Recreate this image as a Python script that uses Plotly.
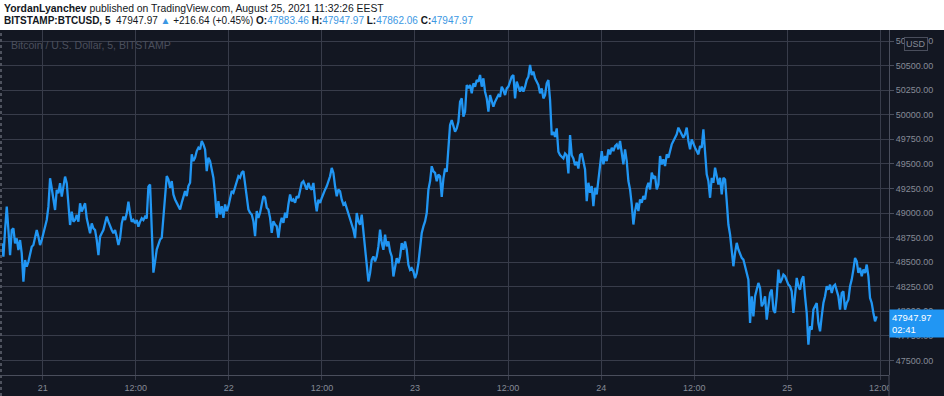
import pandas as pd
import plotly.graph_objects as go

# --- BTC/USD 5-min closes (Aug 20 18:43 -> Aug 25 11:32 EEST) ---
prices_aug20_21 = [
    48691, 48555, 48827, 49065, 48827, 48572, 48827, 48844, 48691, 48742,
    48623, 48725, 48589, 48300, 48521, 48453, 48504, 48589, 48657, 48674,
    48759, 48827, 48759, 48674, 48725, 48793, 48878, 48929, 49065, 49354,
    49252, 49133, 49031, 49235, 49201, 49303, 49167, 49269, 49371, 49303,
    49031, 48878, 49014, 48912, 48929, 48980, 48912, 49099, 49014, 49065,
    49099, 48946, 48861, 48793, 48895, 48844, 48827, 48725, 48572, 48759,
    48793, 48827, 48895, 48963, 48912, 48861, 48827, 48793, 48827, 48759,
    48674, 48742, 48895, 48963, 48929, 48997, 49116, 48997, 48912, 48929,
    48895, 48929, 48861, 48912, 48946, 48929, 48963, 48946, 49269,
]
prices_aug21_22 = [
    49291, 48832, 48393, 48506, 48628, 48679, 48730, 48747, 48951, 49223,
    49376, 49342, 49257, 49325, 49189, 49138, 49104, 49070, 49036, 49104,
    49155, 49223, 49172, 49274, 49308, 49597, 49529, 49563, 49631, 49665,
    49648, 49733, 49699, 49648, 49427, 49563, 49529, 49427, 49359, 49189,
    48951, 49121, 48985, 49070, 48951, 49087, 49019, 49070, 49155, 49223,
    49206, 49257, 49325, 49376, 49359, 49410, 49427, 49291, 49172, 49036,
    49002, 48985, 48917, 48764, 49019, 48951, 49002, 49087, 49172, 49155,
    49053, 49036, 48951, 48798, 48917, 48883, 48866, 48747, 48883, 48951,
    48900, 49002, 48951, 49087, 49189, 49121, 49138, 49104,
]
prices_aug22_23 = [
    49170, 49153, 49238, 49306, 49323, 49272, 49238, 49306, 49255, 49238,
    49306, 49136, 49017, 49136, 49102, 49153, 49204, 49238, 49272, 49323,
    49374, 49459, 49408, 49272, 49170, 49238, 49221, 49136, 49085, 49102,
    49051, 49000, 48932, 48881, 48830, 48745, 49000, 48915, 48881, 48983,
    48830, 48626, 48473, 48303, 48388, 48524, 48558, 48507, 48558, 48660,
    48830, 48694, 48626, 48779, 48660, 48711, 48609, 48558, 48354, 48456,
    48541, 48490, 48558, 48694, 48626, 48711, 48626, 48473, 48422, 48439,
    48405, 48337, 48388, 48490, 48626, 48796, 48864, 48915, 49000, 49238,
    49323, 49476, 49425, 49408, 49323, 49391, 49374,
]
prices_aug23 = [
    49164, 49351, 49453, 49419, 49725, 49895, 49946, 49878, 49827, 49861,
    49929, 50133, 50167, 49980, 50031, 50303, 50269, 50303, 50218, 50320,
    50286, 50354, 50337, 50405, 50286, 50371, 50235, 50167, 50031, 50201,
    50133, 50082, 50133, 50167, 50201, 50184, 50286, 50252, 50201, 50269,
    50286, 50337, 50388, 50405, 50167, 50337, 50286, 50235, 50286, 50235,
    50286, 50354, 50388, 50507, 50405, 50439, 50371, 50337, 50303, 50218,
    50269, 50167, 50201, 50320, 50354, 50150, 49793, 49827, 49776, 49861,
    49623, 49589, 49572, 49555, 49606, 49589, 49402, 49793, 49589, 49555,
    49487, 49521, 49453, 49589, 49606, 49521, 49443,
]
prices_aug24 = [
    49121, 49308, 49206, 49274, 49070, 49257, 49189, 49342, 49444, 49631,
    49495, 49580, 49529, 49648, 49597, 49665, 49631, 49682, 49699, 49648,
    49733, 49614, 49495, 49648, 49529, 49325, 49240, 49087, 48883, 49019,
    49104, 49019, 49138, 49104, 49172, 49138, 49257, 49308, 49240, 49410,
    49359, 49376, 49240, 49291, 49580, 49495, 49546, 49478, 49597, 49563,
    49631, 49699, 49733, 49767, 49801, 49869, 49835, 49818, 49767, 49801,
    49869, 49733, 49648, 49750, 49699, 49665, 49631, 49597, 49682, 49665,
    49852, 49563, 49393, 49325, 49155, 49359, 49308, 49461, 49376, 49291,
    49359, 49189, 49359, 49342, 49121, 48883, 48781,
]
prices_aug24_25 = [
    48628, 48458, 48594, 48696, 48628, 48577, 48543, 48526, 48458, 48390,
    48322, 47880, 48152, 47948, 48152, 48220, 48288, 48237, 48050, 48084,
    48152, 47914, 48050, 48186, 48220, 48016, 47982, 48152, 48424, 48288,
    48322, 48373, 48356, 48322, 48271, 48254, 48203, 47982, 48186, 48339,
    48254, 48220, 48322, 48356, 48152, 47982, 47659, 47846, 47812, 48016,
    48050, 48084, 47880, 47795, 47948, 48084, 48152, 48254, 48220, 48271,
    48186, 48254, 48271, 48220, 48152, 48016, 48186, 48203, 48016, 48084,
    48118, 48254, 48322, 48424, 48543, 48509, 48390, 48441, 48356, 48424,
    48390, 48475, 48356, 48135, 48084, 47982, 47897, 47947.97,
]

tick_vals = ["2021-08-21 00:00", "2021-08-21 12:00", "2021-08-22 00:00", "2021-08-22 12:00",
             "2021-08-23 00:00", "2021-08-23 12:00", "2021-08-24 00:00", "2021-08-24 12:00",
             "2021-08-25 00:00", "2021-08-25 12:00"]
tick_text = ["21", "12:00", "22", "12:00", "23", "12:00", "24", "12:00", "25", "12:00"]

last_price = 47947.97
countdown = "02:41"

prices = (prices_aug20_21 + prices_aug21_22 + prices_aug22_23 +
          prices_aug23 + prices_aug24 + prices_aug24_25)
times = pd.date_range("2021-08-20 18:43", "2021-08-25 11:32", periods=len(prices))

BG = "#131722"
GRID = "#383c4a"
AXLINE = "#4a4e5c"
AXTXT = "#868a96"
BLUE = "#2196f3"

fig = go.Figure()
fig.add_trace(go.Scatter(x=times, y=prices, mode="lines",
                         line=dict(color=BLUE, width=2.3), hoverinfo="skip",
                         showlegend=False))

W, H = 887, 345
fig.update_layout(
    width=944, height=396,
    margin=dict(l=2, r=55, t=30, b=21, pad=0),
    paper_bgcolor=BG, plot_bgcolor=BG,
    font=dict(family="Liberation Sans, Arial, sans-serif", color=AXTXT, size=9),
    xaxis=dict(type="date", range=["2021-08-20 18:45", "2021-08-25 13:07"],
               tickvals=tick_vals, ticktext=tick_text, showgrid=True,
               gridcolor=GRID, gridwidth=1, zeroline=False,
               ticks="outside", ticklen=4, tickcolor=GRID,
               showline=True, linecolor=AXLINE, linewidth=1,
               tickfont=dict(size=9, color=AXTXT)),
    yaxis=dict(side="right", range=[47351, 50863], tick0=0, dtick=250,
               tickformat=".2f", showgrid=True, gridcolor=GRID, gridwidth=1,
               zeroline=False, ticks="outside", ticklen=4, tickcolor=AXLINE,
               showline=True, linecolor=AXLINE, linewidth=1,
               tickfont=dict(size=9, color=AXTXT)),
)

shapes = [
    # white header band
    dict(type="rect", xref="paper", yref="paper", x0=-0.01, x1=1.1,
         y0=1.0, y1=1.2, fillcolor="white", line=dict(width=0), layer="below"),
    # axis corner box (clips the last time label)
    dict(type="rect", xref="paper", yref="paper", x0=1.0, x1=1.0 + 55 / W,
         y0=-21 / H, y1=0, fillcolor=BG, line=dict(width=0), layer="above"),
    dict(type="line", xref="paper", yref="paper", x0=1.0, x1=1.0,
         y0=-21 / H, y1=0, line=dict(color=AXLINE, width=1), layer="above"),
    # dotted left border of the chart pane
    dict(type="line", xref="paper", yref="paper", x0=-1 / W, x1=-1 / W,
         y0=-21 / H, y1=1.0, line=dict(color="#8a8e9a", width=1, dash="dot"), layer="above"),
]
fig.update_layout(shapes=shapes)

VAL = "#3b97e3"
line1 = "<b>YordanLyanchev</b> published on TradingView.com, August 25, 2021 11:32:26 EEST"
line2 = ("<b>BITSTAMP:BTCUSD, 5</b>  47947.97 <span style='color:%s'>▲</span> +216.64 (+0.45%%) "
         "<b>O:</b><span style='color:%s'>47883.46</span> "
         "<b>H:</b><span style='color:%s'>47947.97</span> "
         "<b>L:</b><span style='color:%s'>47862.06</span> "
         "<b>C:</b><span style='color:%s'>47947.97</span>") % (VAL, VAL, VAL, VAL, VAL)

anns = [
    dict(xref="paper", yref="paper", x=0, y=(375 - 8) / H, xanchor="left", yanchor="middle",
         text=line1, showarrow=False, font=dict(size=10.4, color="#131722")),
    dict(xref="paper", yref="paper", x=0, y=(375 - 20) / H, xanchor="left", yanchor="middle",
         text=line2, showarrow=False, font=dict(size=10, color="#131722")),
    dict(xref="paper", yref="paper", x=7 / W, y=(375 - 45) / H, xanchor="left", yanchor="middle",
         text="Bitcoin / U.S. Dollar, 5, BITSTAMP", showarrow=False,
         font=dict(size=10.5, color="#4b4f5d")),
    dict(xref="paper", yref="paper", x=(916 - 2) / W, y=(375 - 43.5) / H,
         xanchor="center", yanchor="middle", text="USD", showarrow=False,
         font=dict(size=9, color=AXTXT), bgcolor=BG, bordercolor=AXLINE,
         borderwidth=1, borderpad=1),
    dict(xref="paper", yref="y", x=1.0, y=last_price, xanchor="left", yanchor="top",
         yshift=7, text="%.2f<br>%s" % (last_price, countdown), showarrow=False,
         align="left", font=dict(size=9.5, color="white"), bgcolor=BLUE,
         borderpad=2, width=52),
]
fig.update_layout(annotations=anns)

fig.write_html("out.html", config={"displayModeBar": False},
               post_script="document.body.style.margin='0';document.body.style.overflow='hidden';")
